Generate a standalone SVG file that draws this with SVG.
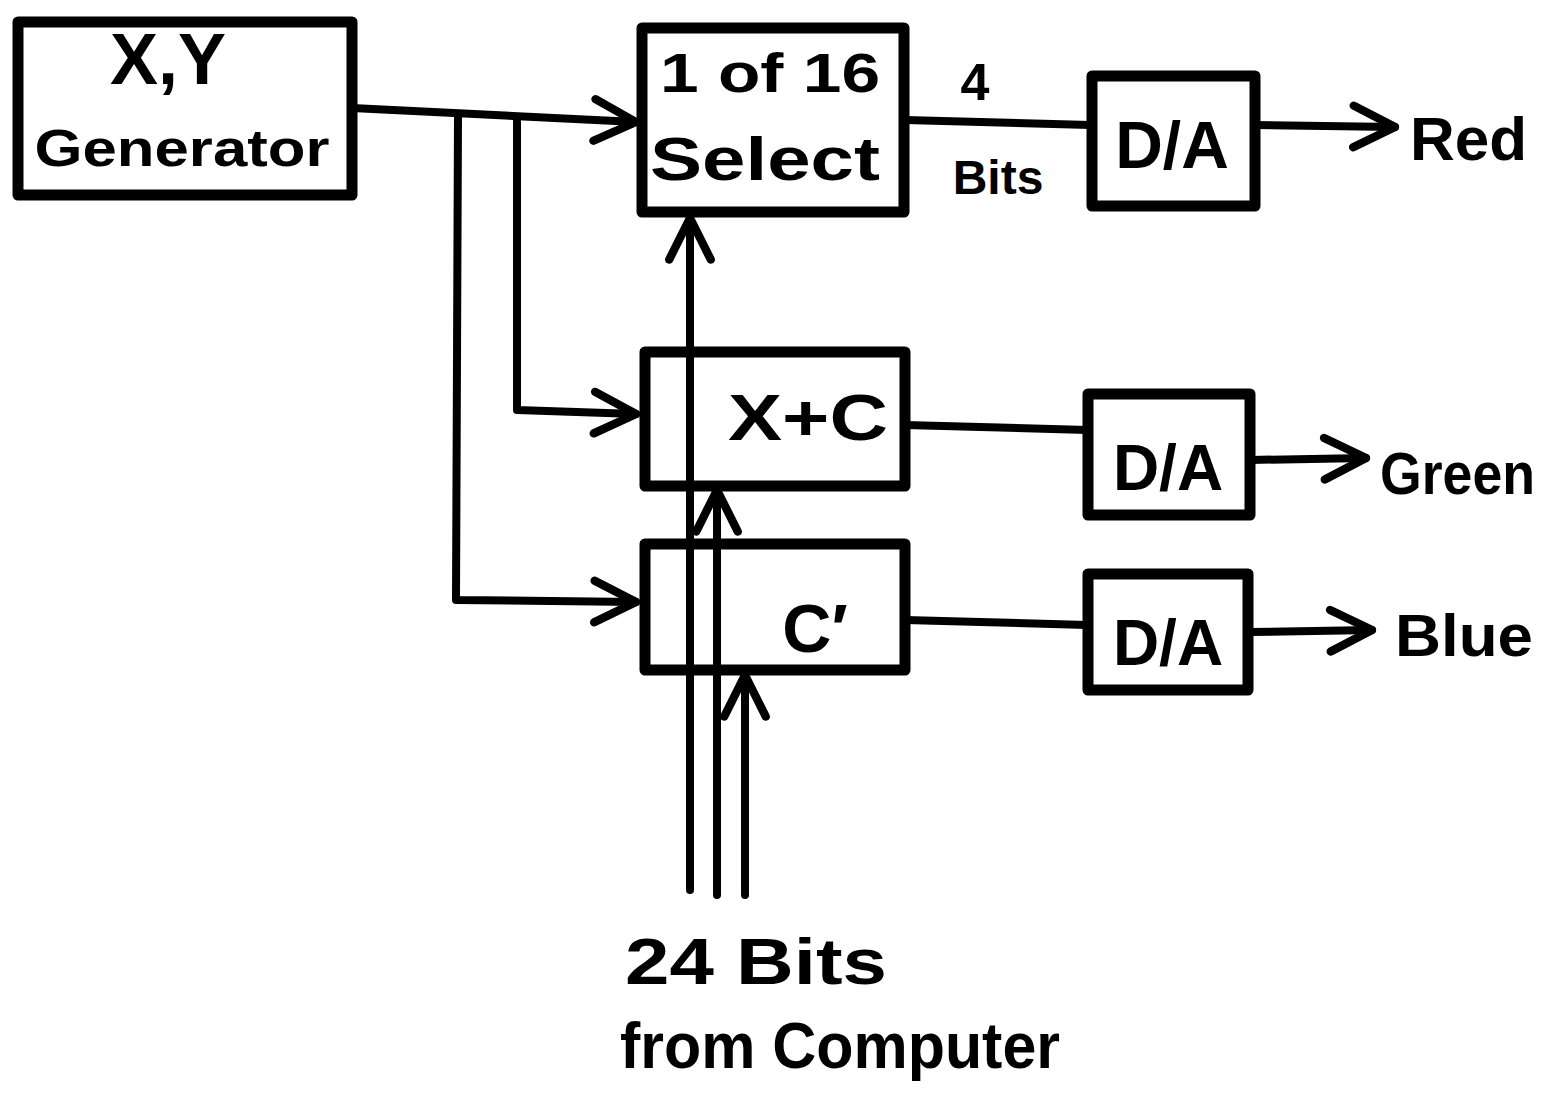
<svg xmlns="http://www.w3.org/2000/svg" width="1560" height="1097" viewBox="0 0 1560 1097">
<style>
.box{fill:none;stroke:#000;stroke-width:11;stroke-linejoin:round}
.ln{fill:none;stroke:#000;stroke-width:8;stroke-linecap:round;stroke-linejoin:round}
.t{font-family:"Liberation Sans",Arial,sans-serif;font-weight:bold;fill:#000}
</style>
<defs>
<marker id="ah" viewBox="0 0 20 20" refX="18" refY="10" markerWidth="6.5" markerHeight="6.5" markerUnits="strokeWidth" orient="auto">
<path d="M2,2 L18,10 L2,18" fill="none" stroke="#000" stroke-width="3.2" stroke-linecap="round" stroke-linejoin="round"/>
</marker>
</defs>
<rect width="1560" height="1097" fill="#fff"/>
<g id="connectors">
<polyline class="ln" points="352,108 636,122" marker-end="url(#ah)"/>
<polyline class="ln" points="458,116 456,600 636,602" marker-end="url(#ah)"/>
<polyline class="ln" points="517,119 517,410 636,414" marker-end="url(#ah)"/>
<polyline class="ln" points="690,890 690,218" marker-end="url(#ah)"/>
<polyline class="ln" points="717,895 717,490" marker-end="url(#ah)"/>
<polyline class="ln" points="745,895 745,675" marker-end="url(#ah)"/>
<polyline class="ln" points="905,120 1090,125"/>
<polyline class="ln" points="905,425 1087,430"/>
<polyline class="ln" points="905,620 1087,625"/>
<polyline class="ln" points="1255,125 1395,127" marker-end="url(#ah)"/>
<polyline class="ln" points="1250,460 1366,458" marker-end="url(#ah)"/>
<polyline class="ln" points="1250,632 1372,630" marker-end="url(#ah)"/>
</g>
<g id="generator">
<rect class="box" x="18" y="22" width="334" height="173"/>
<text class="t" x="168" y="84" font-size="72" text-anchor="middle">X,Y</text>
<text class="t" x="182" y="166" font-size="52" text-anchor="middle" textLength="295" lengthAdjust="spacingAndGlyphs">Generator</text>
</g>
<g id="select">
<rect class="box" x="642" y="28" width="262" height="184"/>
<text class="t" x="770" y="92" font-size="56" text-anchor="middle" textLength="220" lengthAdjust="spacingAndGlyphs">1 of 16</text>
<text class="t" x="765" y="180" font-size="62" text-anchor="middle" textLength="230" lengthAdjust="spacingAndGlyphs">Select</text>
</g>
<g id="bits4">
<text class="t" x="975" y="100" font-size="52" text-anchor="middle">4</text>
<text class="t" x="998" y="194" font-size="48" text-anchor="middle">Bits</text>
</g>
<g id="xc">
<rect class="box" x="645" y="352" width="260" height="134"/>
<text class="t" x="808" y="440" font-size="64" text-anchor="middle" textLength="160" lengthAdjust="spacingAndGlyphs">X+C</text>
</g>
<g id="cprime">
<rect class="box" x="645" y="544" width="260" height="126"/>
<text class="t" x="815" y="652" font-size="68" text-anchor="middle">C′</text>
</g>
<g id="da_red">
<rect class="box" x="1092" y="76" width="163" height="130"/>
<text class="t" x="1172" y="168" font-size="66" text-anchor="middle">D/A</text>
</g>
<g id="da_green">
<rect class="box" x="1088" y="394" width="162" height="121"/>
<text class="t" x="1168" y="490" font-size="64" text-anchor="middle">D/A</text>
</g>
<g id="da_blue">
<rect class="box" x="1088" y="574" width="160" height="116"/>
<text class="t" x="1168" y="665" font-size="64" text-anchor="middle">D/A</text>
</g>
<g id="labels">
<text class="t" x="1410" y="160" font-size="62">Red</text>
<text class="t" x="1380" y="494" font-size="60" textLength="155" lengthAdjust="spacingAndGlyphs">Green</text>
<text class="t" x="1395" y="656" font-size="60" textLength="138" lengthAdjust="spacingAndGlyphs">Blue</text>
<text class="t" x="625" y="984" font-size="64" textLength="262" lengthAdjust="spacingAndGlyphs">24 Bits</text>
<text class="t" x="620" y="1068" font-size="64" textLength="440" lengthAdjust="spacingAndGlyphs">from Computer</text>
</g>
</svg>
